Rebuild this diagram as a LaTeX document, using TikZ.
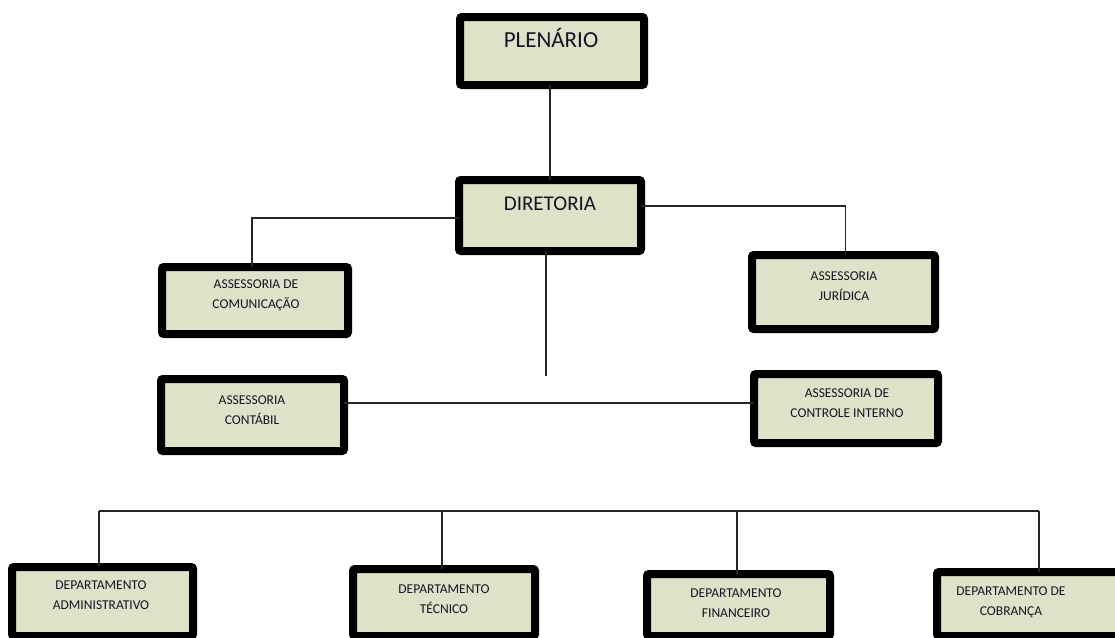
\documentclass[tikz,border=0pt]{standalone}
\usepackage{fontspec}
\setmainfont{Carlito}
\definecolor{boxfill}{HTML}{DDE3C9}
\definecolor{txt}{HTML}{141424}
\tikzset{
  orgbox/.style={draw=black, line width=8pt, fill=boxfill, rounded corners=2pt, inner sep=0pt, outer sep=0pt},
  conn/.style={draw=black!85, line width=1.3pt},
  lbl/.style={font=\fontsize{13.5}{20}\selectfont, text=txt, align=center, inner sep=0pt},
  biglbl/.style={text=txt, inner sep=0pt, anchor=base}
}
\begin{document}
\begin{tikzpicture}[x=1pt,y=-1pt]
\useasboundingbox (0,0) rectangle (1115,637);
\clip (0,0) rectangle (1115,637);
\fill[white] (0,0) rectangle (1115,637);

% connectors
\coordinate (dropend) at (546,376);
\coordinate (busL) at (99,511);
\coordinate (busR) at (1039,511);

% boxes
\node[orgbox, minimum width=184pt, minimum height=68pt] (plen) at (552,51) {};
\node[orgbox, minimum width=182pt, minimum height=71pt] (dir) at (550,215.5) {};
\node[orgbox, minimum width=186pt, minimum height=67pt] (com) at (255,300.5) {};
\node[orgbox, minimum width=183pt, minimum height=74pt] (jur) at (843.5,292) {};
\node[orgbox, minimum width=183pt, minimum height=72pt] (cont) at (252.5,415) {};
\node[orgbox, minimum width=184pt, minimum height=69pt] (ctrl) at (846,408.5) {};
\node[orgbox, minimum width=181pt, minimum height=69pt] (adm) at (102.5,601.5) {};
\node[orgbox, minimum width=182pt, minimum height=67pt] (tec) at (444,602.5) {};
\node[orgbox, minimum width=183pt, minimum height=62pt] (fin) at (738.5,605) {};
\node[orgbox, minimum width=184pt, minimum height=64pt] (cob) at (1029,604) {};

\draw[conn] (dir.north |- plen.south) -- (dir.north);
\draw[conn] ([yshift=-2.5pt]dir.west) -| ([xshift=-3pt]com.north);
\draw[conn] ([yshift=9.5pt]dir.east) -| ([xshift=2pt]jur.north);
\draw[conn] (dropend |- dir.south) -- (dropend);
\draw[conn] ([yshift=12pt]cont.east) -- ([yshift=12pt]cont.east -| ctrl.west);
\draw[conn] (busL) -- (busR);
\draw[conn] (busL) -- (busL |- adm.north);
\draw[conn] ([xshift=-2pt]tec.north |- busL) -- ([xshift=-2pt]tec.north);
\draw[conn] ([xshift=-1.5pt]fin.north |- busL) -- ([xshift=-1.5pt]fin.north);
\draw[conn] (busR) -- (busR |- cob.north);

% texts
\node[biglbl, font=\fontsize{23}{26}\selectfont] (plen-t) at (551,47.5) {PLENÁRIO};
\node[biglbl, font=\fontsize{21}{24}\selectfont] (dir-t) at (550,210) {DIRETORIA};
\node[lbl] (com-t) at (256,295.5) {ASSESSORIA DE\\COMUNICAÇÃO};
\node[lbl] (jur-t) at (844,286) {ASSESSORIA\\JURÍDICA};
\node[lbl] (cont-t) at (252,410.5) {ASSESSORIA\\CONTÁBIL};
\node[lbl] (ctrl-t) at (847,403) {ASSESSORIA DE\\CONTROLE INTERNO};
\node[lbl] (adm-t) at (101,595) {DEPARTAMENTO\\ADMINISTRATIVO};
\node[lbl] (tec-t) at (444,599) {DEPARTAMENTO\\TÉCNICO};
\node[lbl] (fin-t) at (736,603) {DEPARTAMENTO\\FINANCEIRO};
\node[lbl] (cob-t) at (1011,602) {DEPARTAMENTO DE\\COBRANÇA};
\end{tikzpicture}
\end{document}
